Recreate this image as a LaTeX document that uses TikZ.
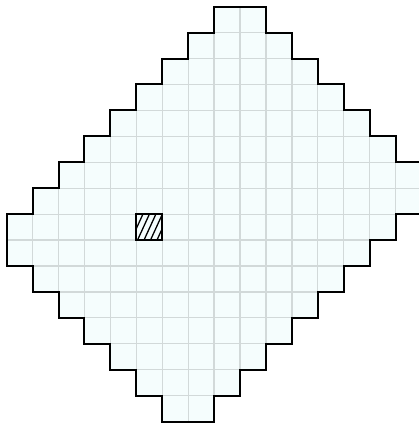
\documentclass[tikz,border=0pt]{standalone}
\usetikzlibrary{patterns}
\definecolor{cellfill}{HTML}{F5FDFD}
\definecolor{gridgray}{HTML}{D2D9D9}
\tikzset{
  outline/.style={line width=1.1pt, draw=black, line join=miter},
  gridlines/.style={draw=gridgray, line width=0.7pt},
  hatchbox/.style={line width=1.1pt, draw=black},
  hatchline/.style={line width=0.7pt, draw=black}
}
\begin{document}
\begin{tikzpicture}[x=0.5cm,y=0.5cm]
\useasboundingbox (-0.258,0.258) rectangle (15.90,-16.055);
\clip (-0.258,0.258) rectangle (15.90,-16.055);
\def\shape{(8,0) -- (10,0) -- (10,-1) -- (11,-1) -- (11,-2) -- (12,-2) -- (12,-3) -- (13,-3) -- (13,-4) -- (14,-4) -- (14,-5) -- (15,-5) -- (15,-6) -- (16,-6) -- (16,-8) -- (15,-8) -- (15,-9) -- (14,-9) -- (14,-10) -- (13,-10) -- (13,-11) -- (12,-11) -- (12,-12) -- (11,-12) -- (11,-13) -- (10,-13) -- (10,-14) -- (9,-14) -- (9,-15) -- (8,-15) -- (8,-16) -- (6,-16) -- (6,-15) -- (5,-15) -- (5,-14) -- (4,-14) -- (4,-13) -- (3,-13) -- (3,-12) -- (2,-12) -- (2,-11) -- (1,-11) -- (1,-10) -- (0,-10) -- (0,-8) -- (1,-8) -- (1,-7) -- (2,-7) -- (2,-6) -- (3,-6) -- (3,-5) -- (4,-5) -- (4,-4) -- (5,-4) -- (5,-3) -- (6,-3) -- (6,-2) -- (7,-2) -- (7,-1) -- (8,-1) -- cycle}
\fill[cellfill] \shape;
\begin{scope}
  \clip \shape;
  \draw[gridlines] (0,-16) grid[step=1] (16,0);
\end{scope}
\draw[outline] \shape;
\begin{scope}
  \clip (5,-9) rectangle (6,-8);
  \foreach \s in {-0.5,-0.25,0,0.25,0.5,0.75,1,1.25}
    \draw[hatchline] (5+\s,-9.1) -- (5.55+\s,-7.9);
\end{scope}
\draw[hatchbox] (5,-9) rectangle (6,-8);
\end{tikzpicture}
\end{document}
